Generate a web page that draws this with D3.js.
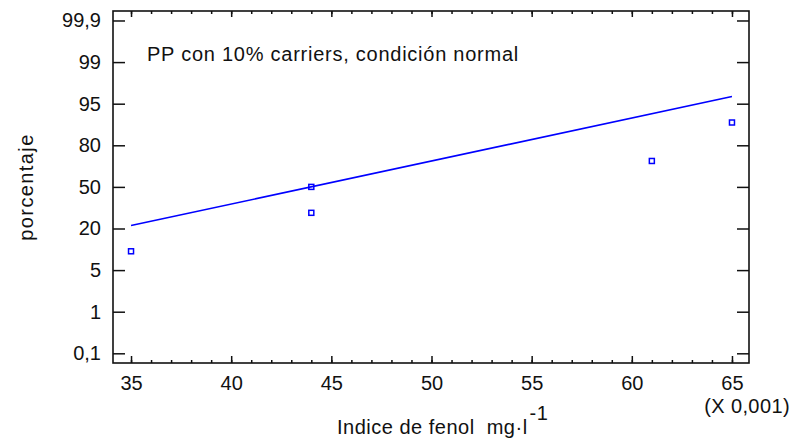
<!DOCTYPE html>
<html>
<head>
<meta charset="utf-8">
<script src="https://cdn.jsdelivr.net/npm/d3@7"></script>
<style>
  html, body { margin: 0; padding: 0; background: #fff; }
  svg text { font-family: "Liberation Sans", Arial, sans-serif; fill: #111; }
</style>
</head>
<body>
<svg id="chart" width="795" height="443"></svg>
<script>
// ---- data ----
const pctTicks  = [0.1, 1, 5, 20, 50, 80, 95, 99, 99.9];
const pctLabels = ["0,1", "1", "5", "20", "50", "80", "95", "99", "99,9"];
const xTicks    = [35, 40, 45, 50, 55, 60, 65];
const xMinor    = [35,36,37,38,39,40,41,42,43,44,45,46,47,48,49,50,51,52,53,54,55,56,57,58,59,60,61,62,63,64,65];
const fenol      = [35, 44, 44, 61, 65];      // Indice de fenol (x 0,001)
const porcentaje = [10, 30, 50, 70, 90];      // plotting position, %
const fitX   = [35, 65];
const fitPct = [21.7, 96.1];

// ---- probit (inverse normal CDF, Acklam) ----
function probit(p) {
  const a = [-3.969683028665376e+01, 2.209460984245205e+02, -2.759285104469687e+02, 1.383577518672690e+02, -3.066479806614716e+01, 2.506628277459239e+00];
  const b = [-5.447609879822406e+01, 1.615858368580409e+02, -1.556989798598866e+02, 6.680131188771972e+01, -1.328068155288572e+01];
  const c = [-7.784894002430293e-03, -3.223964580411365e-01, -2.400758277161838e+00, -2.549732539343734e+00, 4.374664141464968e+00, 2.938163982698783e+00];
  const d = [7.784695709041462e-03, 3.224671290700398e-01, 2.445134137142996e+00, 3.754408661907416e+00];
  const pl = 0.02425, ph = 1 - pl;
  let q, r;
  if (p < pl) {
    q = Math.sqrt(-2 * Math.log(p));
    return (((((c[0]*q+c[1])*q+c[2])*q+c[3])*q+c[4])*q+c[5]) / ((((d[0]*q+d[1])*q+d[2])*q+d[3])*q+1);
  } else if (p <= ph) {
    q = p - 0.5; r = q * q;
    return (((((a[0]*r+a[1])*r+a[2])*r+a[3])*r+a[4])*r+a[5])*q / (((((b[0]*r+b[1])*r+b[2])*r+b[3])*r+b[4])*r+1);
  } else {
    q = Math.sqrt(-2 * Math.log(1 - p));
    return -(((((c[0]*q+c[1])*q+c[2])*q+c[3])*q+c[4])*q+c[5]) / ((((d[0]*q+d[1])*q+d[2])*q+d[3])*q+1);
  }
}

const svg = d3.select("#chart");
const L = 113, R = 749, T = 11, B = 363;

const x = d3.scaleLinear().domain([34.1, 65.85]).range([L, R]);
// piecewise probability scale: tick z-values equally spaced
const zToIdx = d3.scaleLinear().domain(pctTicks.map(p => probit(p / 100))).range(d3.range(pctTicks.length));
const yIdx = d3.scaleLinear().domain([-0.233, 8.228]).range([B, T]);
const y = pct => yIdx(zToIdx(probit(pct / 100)));

const ink = "#111";

// bottom axis (major with labels)
const gB = svg.append("g").attr("transform", `translate(0,${B})`)
  .call(d3.axisBottom(x).tickValues(xTicks).tickSize(-7).tickPadding(13).tickFormat(d3.format("d")));
const gBm = svg.append("g").attr("transform", `translate(0,${B})`)
  .call(d3.axisBottom(x).tickValues(xMinor).tickSize(-3).tickFormat(""));
// top axis
const gT = svg.append("g").attr("transform", `translate(0,${T})`)
  .call(d3.axisTop(x).tickValues(xTicks).tickSize(-6).tickFormat(""));
const gTm = svg.append("g").attr("transform", `translate(0,${T})`)
  .call(d3.axisTop(x).tickValues(xMinor).tickSize(-3).tickFormat(""));
// left axis
const gL = svg.append("g").attr("transform", `translate(${L},0)`)
  .call(d3.axisLeft(yIdx).tickValues(d3.range(pctTicks.length)).tickSize(-12).tickPadding(12).tickFormat(i => pctLabels[i]));
// right axis
const gR = svg.append("g").attr("transform", `translate(${R},0)`)
  .call(d3.axisRight(yIdx).tickValues(d3.range(pctTicks.length)).tickSize(-12).tickFormat(""));

[gB, gBm, gT, gTm, gL, gR].forEach(g => {
  g.select(".domain").remove();
  g.selectAll(".tick line").attr("stroke", ink).attr("stroke-width", 1.5);
  g.selectAll(".tick text").attr("font-size", 20).attr("fill", ink)
    .style("font-family", '"Liberation Sans", Arial, sans-serif');
});

// frame
svg.append("rect").attr("x", L).attr("y", T).attr("width", R - L).attr("height", B - T)
  .attr("fill", "none").attr("stroke", ink).attr("stroke-width", 1.6);

// fitted line
svg.append("path")
  .datum(fitX.map((v, i) => [v, fitPct[i]]))
  .attr("d", d3.line().x(d => x(d[0])).y(d => y(d[1])))
  .attr("fill", "none").attr("stroke", "#0000ff").attr("stroke-width", 1.6);

// points
svg.append("g").selectAll("rect")
  .data(fenol.map((v, i) => [v, porcentaje[i]]))
  .join("rect")
  .attr("x", d => x(d[0]) - 2.5).attr("y", d => y(d[1]) - 2.5)
  .attr("width", 5).attr("height", 5)
  .attr("fill", "none").attr("stroke", "#0000ff").attr("stroke-width", 1.5);

// title inside plot
svg.append("text").attr("x", 147).attr("y", 60.5).attr("font-size", 20)
  .attr("letter-spacing", 0.75)
  .text("PP con 10% carriers, condición normal");

// x-axis label
const xl = svg.append("text").attr("x", 337).attr("y", 434).attr("font-size", 20).attr("letter-spacing", 0.5);
xl.append("tspan").text("Indice de fenol  mg·l").attr("xml:space", "preserve").style("white-space", "pre");
xl.append("tspan").attr("dx", 2).attr("dy", -14).text("-1");

// multiplier
svg.append("text").attr("x", 790).attr("y", 413).attr("font-size", 20).attr("text-anchor", "end")
  .attr("letter-spacing", 0.4)
  .text("(X 0,001)");

// y-axis label
svg.append("text").attr("transform", "translate(33,187) rotate(-90)")
  .attr("text-anchor", "middle").attr("font-size", 20).attr("letter-spacing", 1.4)
  .text("porcentaje");
</script>
</body>
</html>
